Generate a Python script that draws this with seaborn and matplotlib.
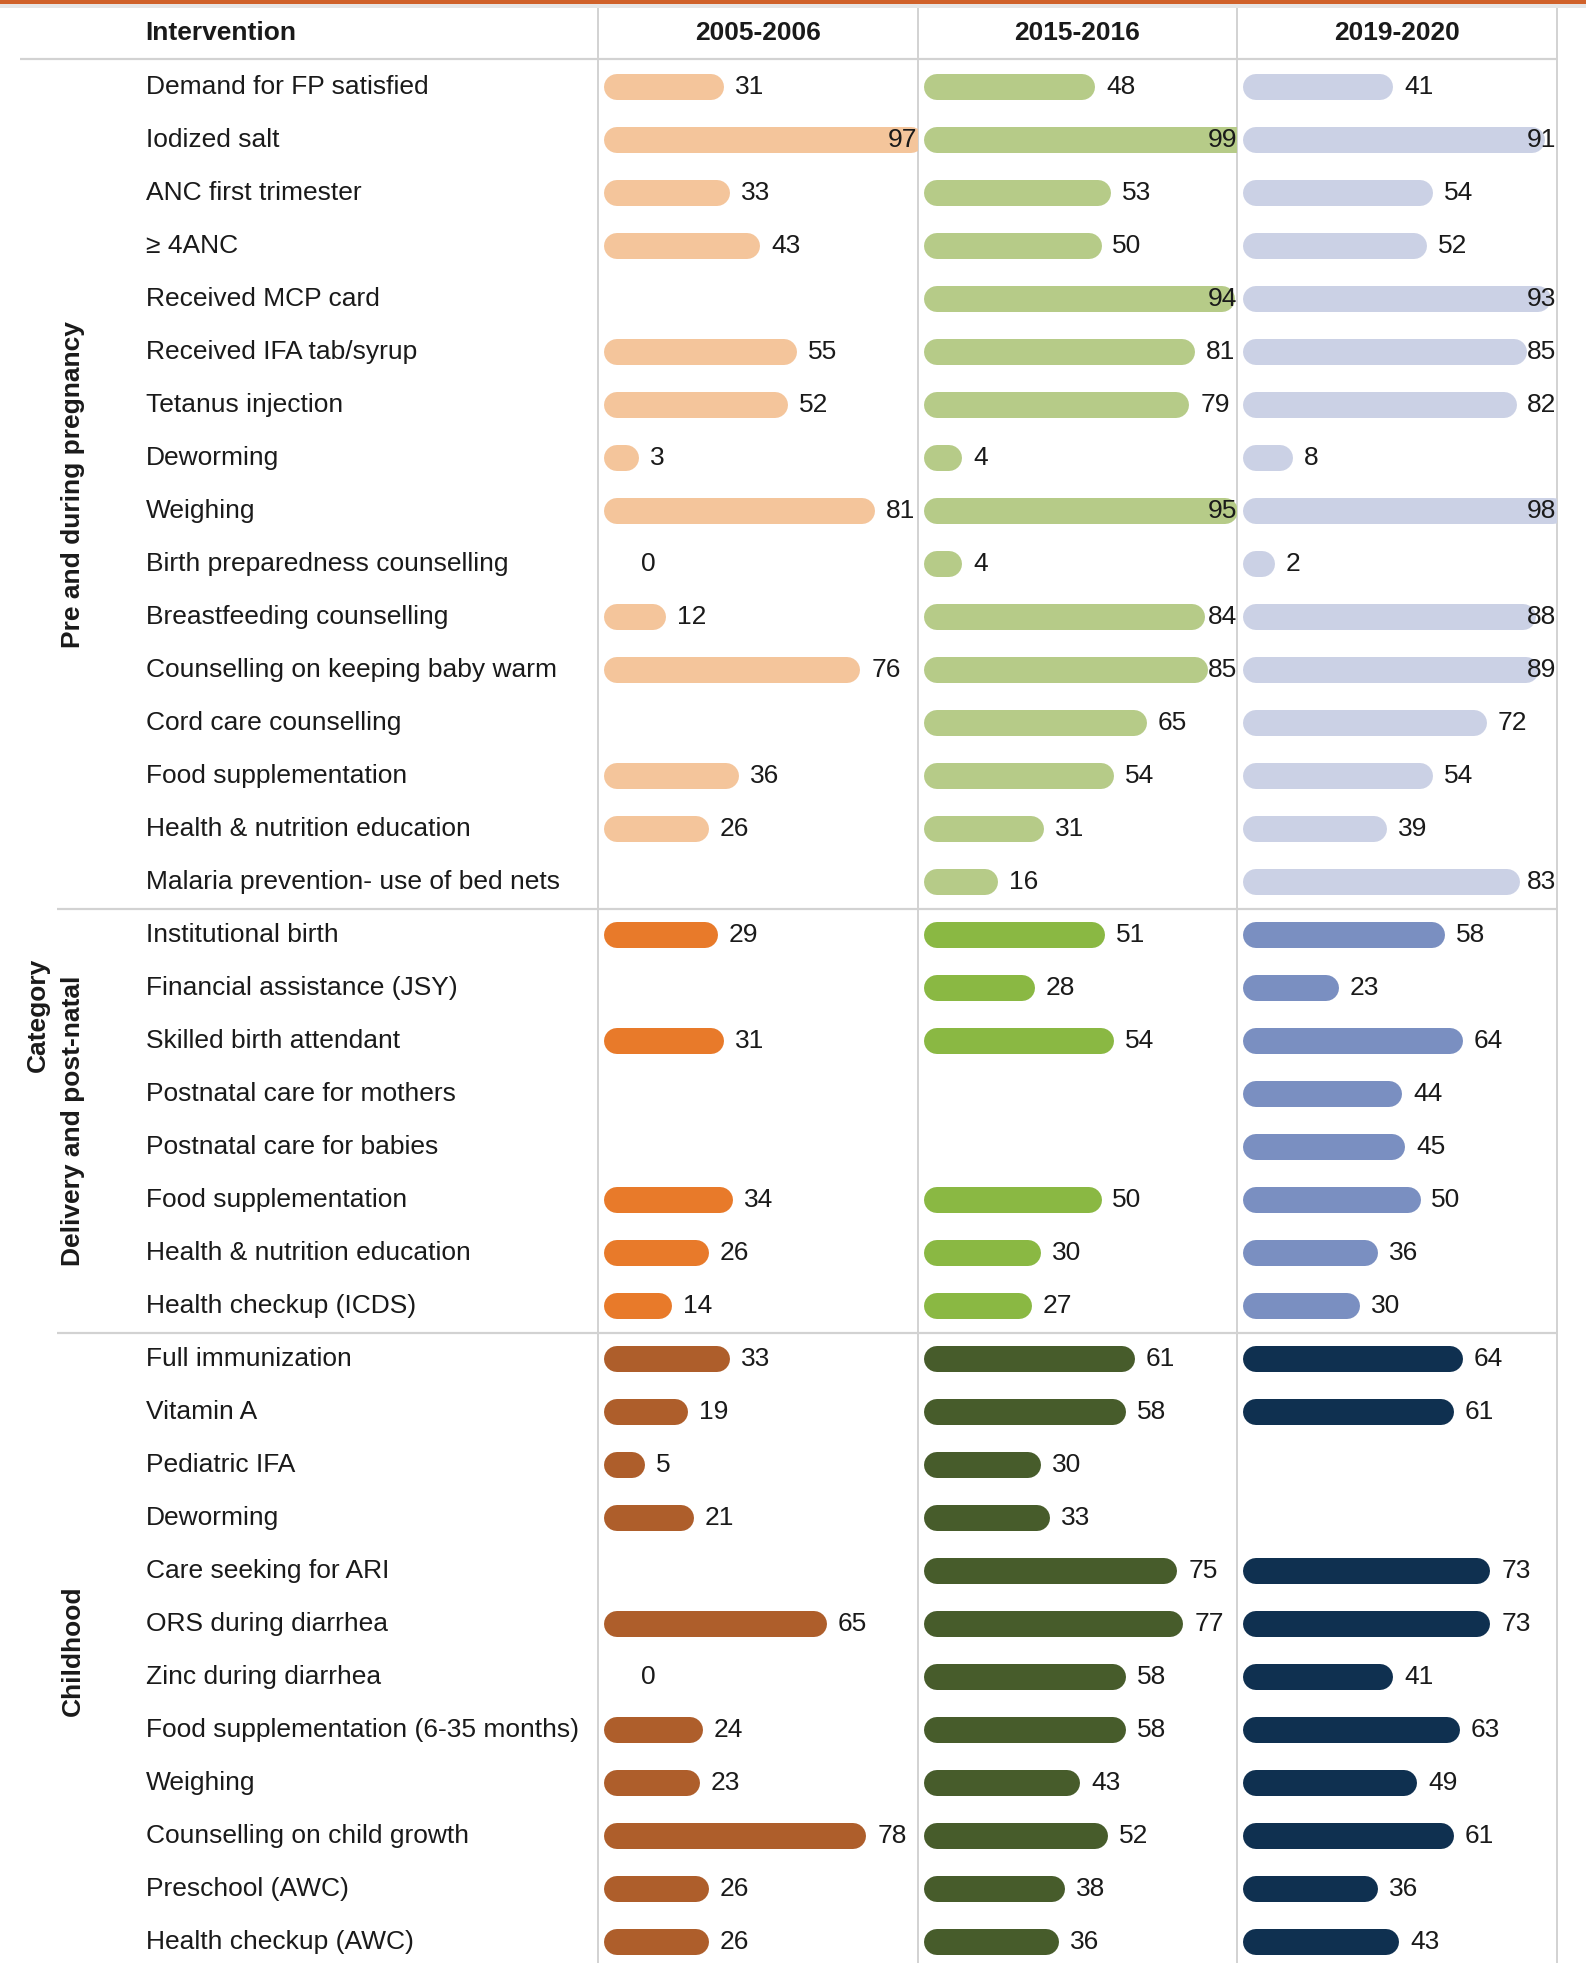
import numpy as np
import pandas as pd
import matplotlib.pyplot as plt
import seaborn as sns

periods = ['2005-2006', '2015-2016', '2019-2020']
groups = ['Pre and during pregnancy', 'Delivery and post-natal', 'Childhood']

pre_labels = ['Demand for FP satisfied', 'Iodized salt', 'ANC first trimester', '\u2265 4ANC',
              'Received MCP card', 'Received IFA tab/syrup', 'Tetanus injection', 'Deworming',
              'Weighing', 'Birth preparedness counselling', 'Breastfeeding counselling',
              'Counselling on keeping baby warm', 'Cord care counselling', 'Food supplementation',
              'Health & nutrition education', 'Malaria prevention- use of bed nets']
pre_2005 = [31, 97, 33, 43, np.nan, 55, 52, 3, 81, 0, 12, 76, np.nan, 36, 26, np.nan]
pre_2015 = [48, 99, 53, 50, 94, 81, 79, 4, 95, 4, 84, 85, 65, 54, 31, 16]
pre_2019 = [41, 91, 54, 52, 93, 85, 82, 8, 98, 2, 88, 89, 72, 54, 39, 83]

del_labels = ['Institutional birth', 'Financial assistance (JSY)', 'Skilled birth attendant',
              'Postnatal care for mothers', 'Postnatal care for babies', 'Food supplementation',
              'Health & nutrition education', 'Health checkup (ICDS)']
del_2005 = [29, np.nan, 31, np.nan, np.nan, 34, 26, 14]
del_2015 = [51, 28, 54, np.nan, np.nan, 50, 30, 27]
del_2019 = [58, 23, 64, 44, 45, 50, 36, 30]

child_labels = ['Full immunization', 'Vitamin A', 'Pediatric IFA', 'Deworming',
                'Care seeking for ARI', 'ORS during diarrhea', 'Zinc during diarrhea',
                'Food supplementation (6-35 months)', 'Weighing', 'Counselling on child growth',
                'Preschool (AWC)', 'Health checkup (AWC)']
child_2005 = [33, 19, 5, 21, np.nan, 65, 0, 24, 23, 78, 26, 26]
child_2015 = [61, 58, 30, 33, 75, 77, 58, 58, 43, 52, 38, 36]
child_2019 = [64, 61, np.nan, np.nan, 73, 73, 41, 63, 49, 61, 36, 43]

colors = {
    '2005-2006': ['#F4C59B', '#E87A2A', '#AE5E2B'],
    '2015-2016': ['#B6CB88', '#8AB843', '#475C2B'],
    '2019-2020': ['#CBD1E5', '#7A8FC1', '#0F3050'],
}

df = pd.DataFrame({
    'label': pre_labels + del_labels + child_labels,
    'group': [groups[0]] * len(pre_labels) + [groups[1]] * len(del_labels) + [groups[2]] * len(child_labels),
    periods[0]: pre_2005 + del_2005 + child_2005,
    periods[1]: pre_2015 + del_2015 + child_2015,
    periods[2]: pre_2019 + del_2019 + child_2019,
})
df['row'] = np.arange(len(df))
n_rows = len(df)
long = df.melt(id_vars=['row', 'label', 'group'], value_vars=periods,
               var_name='period', value_name='value')

sns.set_theme(style='white')
plt.rcParams['font.family'] = ['Liberation Sans', 'DejaVu Sans']
TXT = '#1a1a1a'
GRID = '#d2d2d2'
FS = 19

W, H = 1586, 1963
fig = plt.figure(figsize=(W / 100, H / 100), dpi=100)

# pixel layout
col_edges = [598, 918, 1237, 1557]
header_y = 59
row0, pitch = 87, 53
x_zero, unit = 19, 3.03
ylim = ((H - row0) / pitch, -(row0 - header_y) / pitch)
ax_h = (H - header_y) / H

# background frame (pixel coords)
bg = fig.add_axes([0, 0, 1, 1], zorder=0)
bg.set_xlim(0, W)
bg.set_ylim(H, 0)
bg.set_axis_off()
bg.axhspan(0, 4, color='#D0612A', lw=0)
bg.axhspan(4, 8, color='#e6e6e6', lw=0)
bg.hlines(header_y, 20, col_edges[-1], color=GRID, lw=1.6)
bg.vlines(col_edges, 8, H, color=GRID, lw=1.4)
bg.text(145, 33, 'Intervention', fontsize=FS, fontweight='bold', color=TXT, ha='left', va='center')
for i, p in enumerate(periods):
    bg.text((col_edges[i] + col_edges[i + 1]) / 2, 33, p, fontsize=FS, fontweight='bold',
            color=TXT, ha='center', va='center')

# label column
lab = fig.add_axes([0, 0, col_edges[0] / W, ax_h], zorder=1)
lab.set_xlim(0, col_edges[0])
lab.set_ylim(*ylim)
lab.set_axis_off()
for _, r in df.iterrows():
    lab.text(146, r['row'], r['label'], fontsize=FS, color=TXT, ha='left', va='center')
bounds = []
for g in groups:
    rows = df.loc[df['group'] == g, 'row']
    lab.text(73, rows.mean(), g, fontsize=FS, fontweight='bold', color=TXT,
             rotation=90, ha='center', va='center')
    bounds.append(rows.max() + 0.5)
bounds = bounds[:-1]
lab.hlines(bounds, 57, col_edges[0], color=GRID, lw=1.6)
lab.text(38, (n_rows - 1) / 2, 'Category', fontsize=FS, fontweight='bold', color=TXT,
         rotation=90, ha='center', va='center')

# bar columns
for i, p in enumerate(periods):
    left, right = col_edges[i], col_edges[i + 1]
    ax = fig.add_axes([left / W, 0, (right - left) / W, ax_h], zorder=2)
    sub = long[(long['period'] == p)].dropna(subset=['value'])
    pal = dict(zip(groups, colors[p]))
    sns.barplot(data=sub, x='value', y='row', hue='group', palette=pal, order=list(range(n_rows)),
                orient='h', dodge=False, errorbar=None, legend=False, saturation=1, ax=ax)
    bars = [b for b in ax.patches]
    for b in bars:
        y = b.get_y() + b.get_height() / 2
        v = b.get_width()
        fc = b.get_facecolor()
        b.remove()
        if v > 0:
            lc = ax.hlines(y, 0, v, color=fc, lw=26 * 0.72)
            lc.set_capstyle('round')
    for _, r in sub.iterrows():
        v = r['value']
        ax.text(min(v + 7.9, 89.5), r['row'], f'{v:.0f}', fontsize=FS, color=TXT,
                ha='left', va='center', zorder=5)
    ax.hlines(bounds, -10, 110, color=GRID, lw=1.6)
    ax.set_xlim(-x_zero / unit, (right - left - x_zero) / unit)
    ax.set_ylim(*ylim)
    ax.set_axis_off()

fig.savefig('out.png', dpi=100)
